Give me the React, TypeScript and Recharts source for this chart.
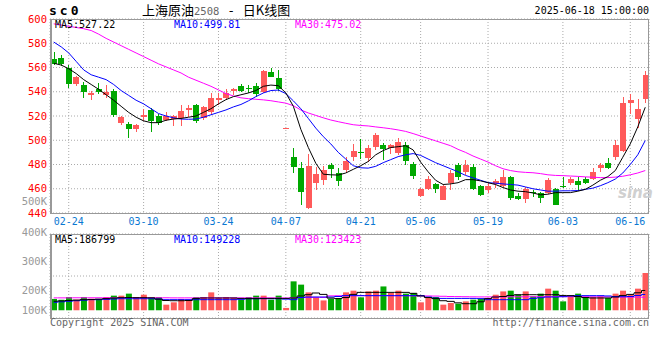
import { ComposedChart, Bar, Line, XAxis, YAxis, CartesianGrid, Cell } from 'recharts'

const MONO = '"DejaVu Sans Mono", "Liberation Mono", monospace'
const CJK = '"Noto Sans CJK SC", sans-serif'
const UP = '#ff5a5a'
const DOWN = '#00a800'
const BLUE_TXT = '#0a78d2'

// trading days shown on the chart
const dates = [
  '02-20', '02-21', '02-24', '02-25', '02-26', '02-27', '02-28',
  '03-03', '03-04', '03-05', '03-06', '03-07', '03-10', '03-11', '03-12', '03-13', '03-14',
  '03-17', '03-18', '03-19', '03-20', '03-21', '03-24', '03-25', '03-26', '03-27', '03-28', '03-31',
  '04-01', '04-02', '04-03', '04-07', '04-08', '04-09', '04-10', '04-11', '04-14', '04-15', '04-16',
  '04-17', '04-18', '04-21', '04-22', '04-23', '04-24', '04-25', '04-28', '04-29', '04-30',
  '05-06', '05-07', '05-08', '05-09', '05-12', '05-13', '05-14', '05-15', '05-16', '05-19', '05-20',
  '05-21', '05-22', '05-23', '05-26', '05-27', '05-28', '05-29', '05-30',
  '06-03', '06-04', '06-05', '06-06', '06-09', '06-10', '06-11', '06-12', '06-13', '06-16', '06-17', '06-18',
]

const opens = [
  567, 568, 560, 546, 545.5, 537, 542, 537.3, 541, 514.5,
  513.4, 509.5, 519, 525, 520, 516.7, 517.3, 518, 525.2, 529,
  518, 523, 533.5, 535, 541, 544.7, 542.8, 544.7, 539.5, 556,
  551, 509.8, 486.4, 477, 444, 465, 467, 479.6, 472.7, 475.5,
  486.4, 490.3, 485.4, 494.7, 496, 493.4, 489.2, 496, 480.4, 454,
  459.8, 464, 450.7, 465, 479.6, 474, 477.7, 462.3, 459, 464,
  462.3, 469.4, 454, 451.3, 457, 456.2, 456.8, 459.5, 462.3, 465,
  466.6, 468, 467.8, 477.4, 481, 486, 491.4, 530.5, 517.5, 534,
]
const highs = [
  573, 570, 562, 553, 548, 541, 547.5, 545.6, 542, 520,
  515.3, 513.6, 526, 526.5, 522, 523.5, 521, 529, 529, 529.5,
  528, 538.7, 538.7, 542, 543.4, 546.4, 545.6, 547, 558, 560,
  558, 510.2, 494, 482.3, 488.4, 478, 479, 481, 477, 486.4,
  497, 501, 496, 506.2, 498, 497, 501.6, 498.8, 482.3, 460.5,
  470.5, 465, 463, 475.5, 481, 483.7, 480.3, 463.3, 464.6, 468,
  475.5, 470.5, 456.7, 461.7, 459, 457.6, 468.6, 460.5, 469.4, 470,
  470, 469.4, 477, 481.5, 485.6, 500.6, 535.5, 538, 534, 557.5,
]
const lows = [
  562, 561, 543, 545, 535, 533, 538, 535, 519, 512.6,
  502, 507, 516, 507, 512.6, 516, 512, 512, 519.5, 514,
  517, 521, 529, 533, 537.3, 539.7, 538.7, 536, 538.7, 552,
  541, 509.6, 472.7, 446.6, 443, 459, 463, 468.6, 462.3, 472.7,
  483, 484.3, 482.3, 492, 483.7, 489, 487.8, 479.6, 467.8, 453.5,
  459, 456.7, 450.7, 459, 467.2, 471.3, 459, 454, 456.7, 461,
  461.7, 450.7, 450.7, 448.5, 453, 448.5, 455.7, 446.6, 460.4, 463,
  459, 464, 467.2, 474, 476, 483.7, 490.6, 521.4, 510, 530.5,
]
const closes = [
  563, 563, 546, 552, 539.5, 538.7, 539.5, 539.5, 521, 519.4,
  509.3, 512.6, 521, 516, 514.5, 520.3, 520, 524, 527, 515.5,
  527.5, 534.6, 534.6, 539, 542.3, 541, 542.3, 538, 557, 552.4,
  542, 510, 478.2, 457.6, 478.8, 472, 475.5, 476, 466.6, 483,
  491.4, 489.2, 494, 504.3, 492.5, 496, 498.8, 483, 470.8, 459.5,
  468, 459.8, 462.3, 472.7, 470, 479.6, 459.8, 454.8, 462.3, 466,
  470, 452.6, 451.5, 459.5, 456.5, 452.1, 467.2, 447, 461.5, 468,
  463, 464.5, 474, 479.3, 477, 496, 531, 533.2, 525.5, 553.5,
]

const ma5 = [
  563.5, 562, 559, 555, 550, 546, 542, 537.5, 533, 528,
  523, 519, 516, 514.5, 514.5, 516.5, 517.5, 518, 519, 520,
  523, 526, 530, 533.5, 536, 537.5, 539, 541, 544.5, 545.5,
  545, 539, 528, 509, 494, 481, 472, 471.5, 471.3, 473,
  476, 479, 482.5, 488, 491.5, 494, 494.7, 495.5, 492, 482,
  474, 467, 463.5, 464, 465, 467.5, 467.5, 466.5, 465, 463.5,
  461, 459, 458, 457.6, 456.5, 455, 455.5, 456.8, 456.8, 456.8,
  458, 459.5, 463, 467, 470, 475, 486, 497, 511, 527.22,
]
const ma10 = [
  581, 577, 572, 565, 558, 554, 552, 550, 546, 541,
  537, 533, 530, 526, 522, 520, 518.5, 517.5, 517.3, 517.5,
  519, 521, 523, 525, 527.5, 529.5, 532.5, 536, 539, 541,
  541.4, 538.5, 532.5, 526, 518, 510, 503, 497, 490, 484.5,
  479, 477.3, 477, 478.5, 481.5, 484, 486.5, 488, 489, 487.5,
  484.5, 481.5, 479, 476.5, 474, 471, 469, 467, 465, 464.6,
  464, 463.5, 463, 461.5, 460, 459, 458, 458, 458.3, 458.3,
  458.5, 459.5, 460.5, 462.5, 465, 468, 473, 480, 488, 499.81,
]
const ma30 = [
  596, 595, 594, 593, 592, 590.5, 587.5, 584, 581, 578,
  575, 572, 569, 566, 563, 560.5, 558, 555.5, 552, 549.5,
  547, 544.5, 541.5, 538.5, 536.5, 535, 534.3, 533.8, 533.3, 532.6,
  531.6, 530.6, 528.5, 525, 522.5, 520.5, 518.5, 516.7, 515.3, 514,
  512.8, 512.2, 511.8, 511, 510.3, 509.5, 508.5, 507.3, 505.5, 503.5,
  501.5, 499.5, 497.5, 495.5, 492.5, 490, 487, 484.5, 482, 479,
  476.5, 475, 474, 473.5, 473.2, 472.5, 471.5, 471, 470.8, 470.5,
  470.2, 469.8, 469.5, 469.2, 469.2, 469.6, 470.3, 471.5, 473, 475.02,
]

// volume, in thousands of lots
const volumes = [
  107, 100, 125, 100, 125, 109, 107, 125, 138, 138,
  157, 125, 147, 116, 125, 53, 75, 107, 100, 125,
  125, 169, 116, 125, 116, 100, 125, 138, 138, 100,
  138, 22, 273, 242, 169, 116, 93, 109, 116, 169,
  185, 122, 178, 185, 225, 163, 185, 157, 163, 75,
  125, 125, 53, 69, 62, 84, 100, 107, 116, 147,
  178, 185, 147, 178, 131, 157, 204, 185, 84, 138,
  157, 125, 125, 131, 116, 157, 185, 147, 204, 352,
]
const volMa5 = [
  85, 88, 92, 96, 100, 102, 105, 110, 115, 119,
  120, 119, 119, 118, 105, 92, 90, 90, 92, 110,
  116, 116, 116, 116, 116, 112, 110, 110, 112, 112,
  112, 112, 116, 135, 147, 163, 150, 115, 110, 120,
  150, 169, 169, 169, 169, 169, 169, 169, 160, 135,
  120, 110, 90, 84, 70, 62, 62, 80, 110, 125,
  130, 140, 147, 147, 147, 147, 147, 147, 140, 138,
  130, 120, 116, 116, 116, 125, 140, 150, 165, 186.8,
]
const volMa10 = [
  75, 80, 85, 90, 95, 100, 100, 103, 106, 109,
  109, 109, 109, 109, 106, 100, 100, 100, 100, 100,
  100, 100, 100, 100, 100, 103, 109, 109, 109, 109,
  109, 105, 100, 120, 125, 125, 125, 125, 130, 138,
  138, 138, 138, 138, 138, 138, 138, 138, 138, 138,
  125, 115, 112, 112, 112, 112, 112, 110, 100, 100,
  100, 100, 100, 100, 112, 118, 125, 125, 128, 135,
  138, 138, 138, 138, 135, 130, 128, 130, 140, 149.2,
]
const volMa30 = [
  117, 117, 117, 118, 118, 118, 118, 118, 118, 118,
  118, 118, 118, 118, 118, 118, 117, 117, 117, 117,
  117, 117, 117, 117, 117, 117, 117, 117, 117, 117,
  116, 116, 118, 120, 121, 122, 122, 136, 137, 137,
  138, 138, 138, 138, 138, 138, 137, 137, 136, 136,
  135, 134, 132, 130, 129, 128, 127, 126, 126, 126,
  126, 127, 127, 127, 128, 128, 129, 129, 129, 128,
  128, 128, 127, 127, 126, 126, 125, 124, 124, 123.4,
]

const dateTicks = ['02-24', '03-10', '03-24', '04-07', '04-21', '05-06', '05-19', '06-03', '06-16']
const priceTicks = [440, 460, 480, 500, 520, 540, 560, 580, 600]
const volAxisLabels = ['500K', '400K', '300K', '200K', '100K']
const volLabelTops = [196, 227, 256, 285, 305]
const VOL_MIN = -73
const VOL_MAX = 720
const volGrid = [0, 1, 2, 3, 4].map((k) => VOL_MIN + ((VOL_MAX - VOL_MIN) * k) / 4)

const data = dates.map((date, i) => ({
  date,
  open: opens[i],
  high: highs[i],
  low: lows[i],
  close: closes[i],
  range: [lows[i], highs[i]],
  ma5: ma5[i],
  ma10: ma10[i],
  ma30: ma30[i],
  vol: volumes[i],
  vma5: volMa5[i],
  vma10: volMa10[i],
  vma30: volMa30[i],
}))

function Candle(props: any) {
  const { x, y, width, height, payload } = props
  const { open, close, high, low } = payload
  const color = close >= open ? UP : DOWN
  const top0 = Math.min(y, y + height)
  const h = Math.abs(height)
  const ratio = high > low ? h / (high - low) : 0
  const yOf = (v: number) => top0 + (high - v) * ratio
  const bodyTop = yOf(Math.max(open, close))
  const bodyBot = yOf(Math.min(open, close))
  const cx = Math.floor(x + width / 2) + 0.5
  return (
    <g shapeRendering="crispEdges">
      <line x1={cx} x2={cx} y1={top0} y2={top0 + h} stroke={color} strokeWidth={1} />
      <rect x={Math.round(x)} y={bodyTop} width={width} height={Math.max(1, bodyBot - bodyTop)} fill={color} />
    </g>
  )
}

function Txt({ x, y, color = '#000', size = 10, right, family = MONO, children, style }: any) {
  const pos = right ? { right: 660 - x } : { left: x }
  return (
    <div
      style={{
        position: 'absolute',
        top: y,
        ...pos,
        color,
        fontSize: size,
        lineHeight: `${size}px`,
        fontFamily: family,
        whiteSpace: 'nowrap',
        ...style,
      }}
    >
      {children}
    </div>
  )
}

const panel = (top: number, height: number) => ({
  position: 'absolute' as const,
  left: 50,
  top,
  width: 599,
  height,
  border: '1px solid #999',
  borderLeft: '2px solid #999',
  boxSizing: 'border-box' as const,
  pointerEvents: 'none' as const,
})

export default function App() {
  return (
    <div style={{ position: 'absolute', left: 0, top: 0, width: 660, height: 360, background: '#fff', overflow: 'hidden' }}>
      <div style={{ position: 'absolute', left: 0, top: 0 }}>
        <ComposedChart width={660} height={229} data={data} margin={{ top: 19, right: 11, bottom: 0, left: 0 }}>
          <CartesianGrid stroke="#aaa" strokeDasharray="1 2" />
          <XAxis
            dataKey="date"
            ticks={dateTicks}
            interval={0}
            tickLine={false}
            axisLine={false}
            tickSize={0}
            tickMargin={5}
            height={16}
            tick={{ fill: BLUE_TXT, fontSize: 10, fontFamily: MONO }}
          />
          <YAxis
            domain={[440, 600]}
            ticks={priceTicks}
            allowDataOverflow
            width={50}
            tickLine={false}
            axisLine={false}
            tickSize={0}
            tickMargin={3}
            tick={{ fill: '#ff0000', fontSize: 10.5, fontFamily: MONO }}
          />
          <Bar dataKey="range" barSize={6} shape={(p: any) => <Candle {...p} />} isAnimationActive={false} />
          <Line dataKey="ma30" stroke="#ff00ff" strokeWidth={1} dot={false} isAnimationActive={false} />
          <Line dataKey="ma10" stroke="#0000ff" strokeWidth={1} dot={false} isAnimationActive={false} />
          <Line dataKey="ma5" stroke="#000" strokeWidth={1} dot={false} isAnimationActive={false} />
        </ComposedChart>
      </div>

      <div style={{ position: 'absolute', left: 0, top: 226 }}>
        <ComposedChart width={660} height={94} data={data} margin={{ top: 8, right: 11, bottom: 2, left: 50 }}>
          <CartesianGrid stroke="#aaa" strokeDasharray="1 2" />
          <XAxis dataKey="date" ticks={dateTicks} interval={0} hide />
          <YAxis domain={[VOL_MIN, VOL_MAX]} ticks={volGrid} allowDataOverflow hide />
          <Bar dataKey="vol" barSize={6} isAnimationActive={false}>
            {data.map((d, i) => (
              <Cell key={`v-${i}`} fill={d.close >= d.open ? UP : DOWN} />
            ))}
          </Bar>
          <Line type="step" dataKey="vma30" stroke="#ff00ff" strokeWidth={1} dot={false} isAnimationActive={false} />
          <Line type="step" dataKey="vma10" stroke="#0000ff" strokeWidth={1} dot={false} isAnimationActive={false} />
          <Line type="step" dataKey="vma5" stroke="#000" strokeWidth={1} dot={false} isAnimationActive={false} />
        </ComposedChart>
      </div>

      <div style={panel(19, 195)} />
      <div style={panel(234, 85)} />

      <Txt x={49} y={4} size={13} style={{ fontWeight: 'bold', letterSpacing: 3 }}>sc0</Txt>
      <Txt x={142} y={3} size={13} family={CJK}>
        上海原油<span style={{ fontFamily: MONO, fontSize: 10.5, color: '#666' }}>2508</span>
        <span style={{ fontFamily: MONO }}> - </span> 日K线图
      </Txt>
      <Txt x={649} y={6} right>2025-06-18 15:00:00</Txt>

      <Txt x={55} y={20}>MA5:527.22</Txt>
      <Txt x={174} y={20} color="#0000ff">MA10:499.81</Txt>
      <Txt x={295} y={20} color="#ff00ff">MA30:475.02</Txt>

      <Txt x={55} y={235}>MA5:186799</Txt>
      <Txt x={174} y={235} color="#0000ff">MA10:149228</Txt>
      <Txt x={295} y={235} color="#ff00ff">MA30:123423</Txt>

      {volAxisLabels.map((l, i) => (
        <Txt key={l} x={47} y={volLabelTops[i]} right color="#999" size={10.5}>{l}</Txt>
      ))}

      <Txt x={618} y={186} color="#d0d0d0" size={15} family="'DejaVu Sans', sans-serif" style={{ fontWeight: 'bold', fontStyle: 'italic' }}>sina</Txt>

      <Txt x={50} y={318} color="#666">Copyright 2025 SINA.COM</Txt>
      <Txt x={649} y={318} right color="#666">http://finance.sina.com.cn</Txt>
    </div>
  )
}
